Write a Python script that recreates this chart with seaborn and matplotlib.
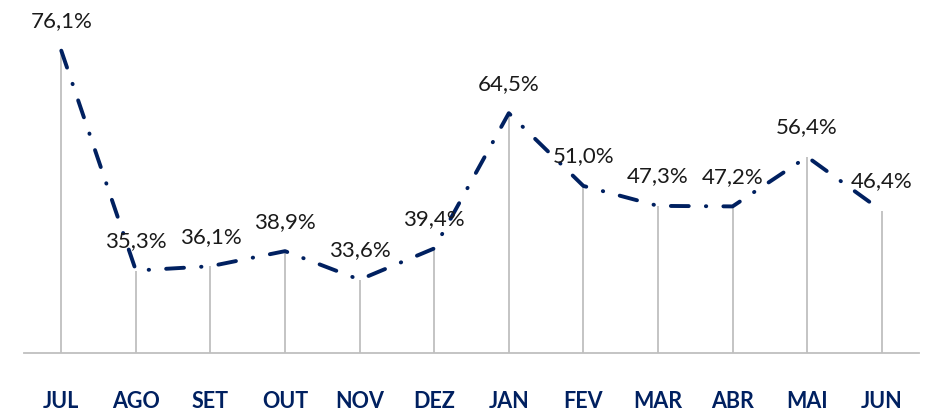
import matplotlib
matplotlib.use("Agg")
import matplotlib.pyplot as plt
import seaborn as sns
import pandas as pd
import numpy as np

months = ["JUL", "AGO", "SET", "OUT", "NOV", "DEZ", "JAN", "FEV", "MAR", "ABR", "MAI", "JUN"]
values = [76.1, 35.3, 36.1, 38.9, 33.6, 39.4, 64.5, 51.0, 47.3, 47.2, 56.4, 46.4]

NAVY = "#002060"
GREY = "#BFBFBF"

sns.set_style("white")
plt.rcParams["font.family"] = ["Lato", "DejaVu Sans"]

df = pd.DataFrame({"pos": np.arange(len(months)), "value": values})

fig = plt.figure(figsize=(9.32, 4.11), dpi=100)
ax = fig.add_axes([24 / 932, 58 / 411, 895 / 932, 353 / 411])

# drop lines from each point down to the axis
ax.vlines(df["pos"], 20, df["value"], color=GREY, linewidth=1.3, zorder=1)

sns.lineplot(data=df, x="pos", y="value", ax=ax, color=NAVY, linewidth=2.8, zorder=3)
line = ax.lines[-1]
line.set_dashes((4.6, 4.4, 0.1, 4.4))
line.set_dash_capstyle("round")

for x, v in zip(df["pos"], df["value"]):
    ax.annotate(f"{v:.1f}%".replace(".", ","), (x, v), xytext=(0, 14),
                textcoords="offset points", ha="center", va="bottom",
                fontsize=16, color="#1a1a1a", zorder=4)

ax.set_xlim(-0.5, len(months) - 0.5)
ax.set_ylim(20, 85.5)
ax.set_xticks(df["pos"])
ax.set_xticklabels(months, fontsize=15.5, fontweight="bold", color=NAVY)
ax.set_xticks(np.arange(-0.5, len(months)), minor=True)
ax.tick_params(axis="x", which="major", length=0, pad=27)
ax.tick_params(axis="x", which="minor", length=6, width=1.3, color=GREY, direction="out")
ax.set_yticks([])
ax.set_xlabel("")
ax.set_ylabel("")

for side in ["top", "left", "right"]:
    ax.spines[side].set_visible(False)
ax.spines["bottom"].set_color(GREY)
ax.spines["bottom"].set_linewidth(1.3)

fig.savefig("out.png", dpi=100)
